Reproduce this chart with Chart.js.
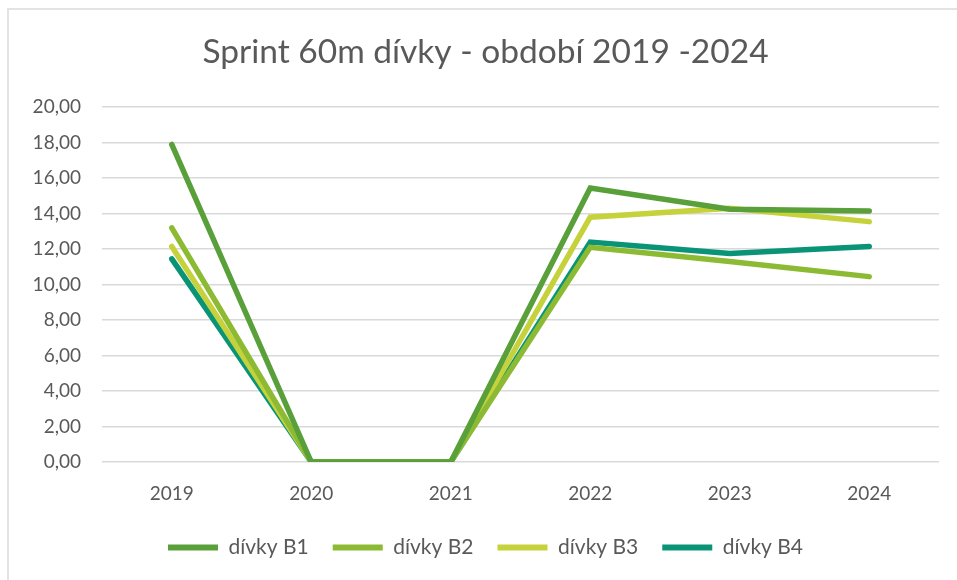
<!DOCTYPE html>
<html lang="cs">
<head>
    <meta charset="UTF-8">
    <title>Sprint 60m dívky</title>
    <script src="https://cdn.jsdelivr.net/npm/chart.js"></script>
    <style>
        body {
            margin: 0;
            background: #ffffff;
        }

        .frame {
            position: absolute;
            left: 0;
            top: 0;
            width: 957px;
            height: 580px;
            overflow: hidden;
        }

        .frame .border {
            position: absolute;
            left: 7px;
            top: 8px;
            width: 1000px;
            height: 700px;
            border-left: 2px solid #e3e3e3;
            border-top: 2px solid #e3e3e3;
        }

        canvas {
            position: absolute;
            left: 0;
            top: 0;
        }
    </style>
</head>
<body>
    <div class="frame">
        <div class="border"></div>
        <canvas id="sprintChart" width="957" height="580"></canvas>
    </div>
    <script>
        const years = ['2019', '2020', '2021', '2022', '2023', '2024'];
        const b1 = [17.9, 0, 0, 15.45, 14.25, 14.15];
        const b2 = [13.2, 0, 0, 12.1, 11.3, 10.45];
        const b3 = [12.15, 0, 0, 13.8, 14.3, 13.55];
        const b4 = [11.45, 0, 0, 12.4, 11.75, 12.15];
        const seriesNames = ['dívky B1', 'dívky B2', 'dívky B3', 'dívky B4'];
        const colors = ['#5aa03a', '#8cbb33', '#c5d23b', '#0a9477'];

        const textColor = '#595959';
        const font = 'Lato, "Liberation Sans", sans-serif';

        const ctx = document.getElementById('sprintChart').getContext('2d');
        new Chart(ctx, {
            type: 'line',
            data: {
                labels: years,
                datasets: [b1, b2, b3, b4].map((values, i) => ({
                    label: seriesNames[i],
                    data: values,
                    borderColor: colors[i],
                    backgroundColor: colors[i],
                    borderWidth: 5.5,
                    borderCapStyle: 'round',
                    borderJoinStyle: 'miter',
                    pointRadius: 0,
                    tension: 0,
                    fill: false
                }))
            },
            options: {
                responsive: false,
                animation: false,
                layout: {
                    padding: { left: 32, right: 18, top: 20, bottom: 12 }
                },
                plugins: {
                    title: {
                        display: true,
                        text: 'Sprint 60m dívky - období 2019 -2024',
                        color: textColor,
                        font: { family: font, size: 33.5, weight: 'normal' },
                        padding: { top: 12, bottom: 35 }
                    },
                    legend: {
                        position: 'bottom',
                        labels: {
                            color: textColor,
                            font: { family: font, size: 21 },
                            boxWidth: 50,
                            boxHeight: 6,
                            padding: 24,
                            generateLabels: chart => chart.data.datasets.map((ds, i) => ({
                                text: ds.label,
                                fillStyle: ds.borderColor,
                                strokeStyle: ds.borderColor,
                                lineWidth: 0,
                                fontColor: textColor,
                                datasetIndex: i
                            }))
                        }
                    },
                    tooltip: { enabled: false }
                },
                scales: {
                    x: {
                        offset: true,
                        // hidden grid, tick length only spaces the labels
                        grid: { display: false, drawTicks: true, tickLength: 20 },
                        border: { display: false },
                        ticks: {
                            color: textColor,
                            font: { family: font, size: 19 },
                            padding: 0
                        },
                        afterFit: scale => { scale.height = 51; }
                    },
                    y: {
                        min: 0,
                        max: 20,
                        grid: { color: '#d9d9d9', lineWidth: 1.5, drawTicks: false },
                        border: { display: false },
                        ticks: {
                            stepSize: 2,
                            color: textColor,
                            font: { family: font, size: 19 },
                            padding: 21,
                            callback: v => v.toFixed(2).replace('.', ',')
                        },
                        afterFit: scale => { scale.width = 70; }
                    }
                }
            }
        });
    </script>
</body>
</html>
